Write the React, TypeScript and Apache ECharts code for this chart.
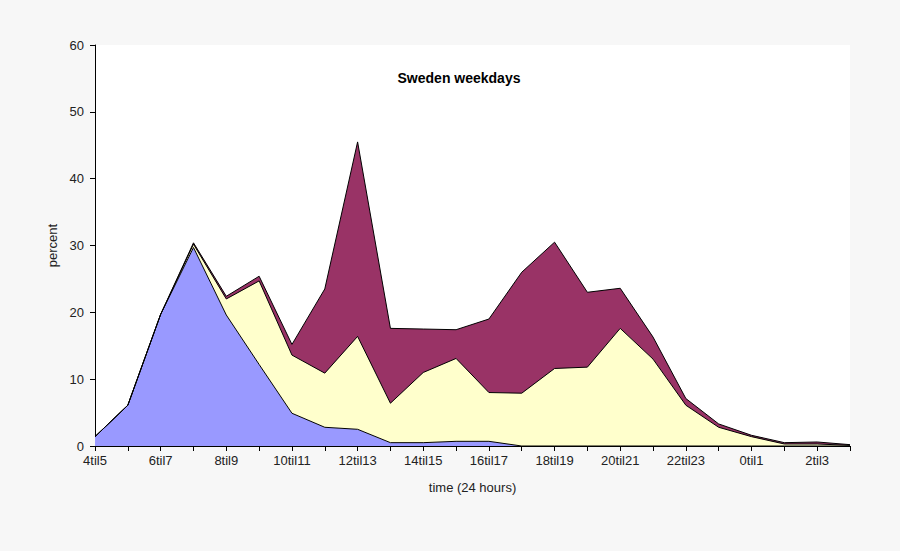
import React, { useEffect, useRef } from "react";
import * as echarts from "echarts";

const categories = [
  "4til5", "5til6", "6til7", "7til8", "8til9", "9til10", "10til11", "11til12",
  "12til13", "13til14", "14til15", "15til16", "16til17", "17til18", "18til19", "19til20",
  "20til21", "21til22", "22til23", "23til0", "0til1", "1til2", "2til3", "3til4",
];

const blueValues = [1.4, 6.1, 19.7, 29.7, 19.6, 12.2, 4.9, 2.8, 2.5, 0.5, 0.5, 0.7, 0.7, 0, 0, 0, 0, 0, 0, 0, 0, 0, 0, 0];
const yellowValues = [0, 0, 0, 0.5, 2.4, 12.5, 8.7, 8.1, 13.9, 5.9, 10.5, 12.4, 7.3, 7.9, 11.6, 11.8, 17.6, 13.0, 6.1, 2.8, 1.4, 0.3, 0.3, 0.1];
const purpleValues = [0, 0, 0, 0.2, 0.4, 0.7, 1.6, 12.6, 29.1, 11.2, 6.5, 4.3, 11.0, 18.1, 18.9, 11.2, 6.0, 3.3, 1.0, 0.5, 0.2, 0.2, 0.3, 0.1];

const FONT = "'Liberation Sans', Arial, sans-serif";

export default function App() {
  const ref = useRef<HTMLDivElement>(null);
  useEffect(() => {
    if (!ref.current) return;
    const chart = echarts.init(ref.current, undefined, { renderer: "svg" });
    const mk = (name: string, data: number[], color: string) => ({
      name,
      type: "line",
      stack: "total",
      data,
      symbol: "none",
      lineStyle: { color: "#000", width: 1 },
      areaStyle: { color, opacity: 1 },
      itemStyle: { color },
    });
    chart.setOption({
      animation: false,
      backgroundColor: "#f7f7f7",
      textStyle: { fontFamily: FONT },
      grid: {
        left: 95, right: 50, top: 45, bottom: 105,
        show: true, backgroundColor: "#ffffff", borderWidth: 0,
      },
      graphic: [
        {
          type: "text", x: 459, y: 78,
          style: {
            text: "Sweden weekdays", fontFamily: FONT, fontSize: 14, fontWeight: "bold",
            fill: "#000", textAlign: "center", textVerticalAlign: "middle",
          },
        },
      ],
      xAxis: {
        type: "category",
        data: categories,
        boundaryGap: false,
        name: "time (24 hours)",
        nameLocation: "middle",
        nameGap: 35,
        nameTextStyle: { fontSize: 13, color: "#222", fontFamily: FONT },
        axisLine: { lineStyle: { color: "#000", width: 1 } },
        axisTick: { show: true, interval: 0, length: 5, lineStyle: { color: "#000" } },
        axisLabel: { interval: 1, fontSize: 13, color: "#222", margin: 8, fontFamily: FONT },
        splitLine: { show: false },
      },
      yAxis: {
        type: "value",
        min: 0,
        max: 60,
        interval: 10,
        name: "percent",
        nameLocation: "middle",
        nameGap: 28,
        nameRotate: 90,
        nameTextStyle: { fontSize: 13, color: "#222", fontFamily: FONT },
        axisLine: { show: true, lineStyle: { color: "#000", width: 1 } },
        axisTick: { show: true, length: 5, lineStyle: { color: "#000" } },
        axisLabel: { fontSize: 13, color: "#222", margin: 11, fontFamily: FONT },
        splitLine: { show: false },
      },
      series: [
        mk("blue", blueValues, "#9999ff"),
        mk("yellow", yellowValues, "#ffffcc"),
        mk("purple", purpleValues, "#993366"),
      ],
    });
    return () => chart.dispose();
  }, []);
  return (
    <div
      ref={ref}
      style={{ position: "fixed", left: 0, top: 0, width: 900, height: 551 }}
    />
  );
}
